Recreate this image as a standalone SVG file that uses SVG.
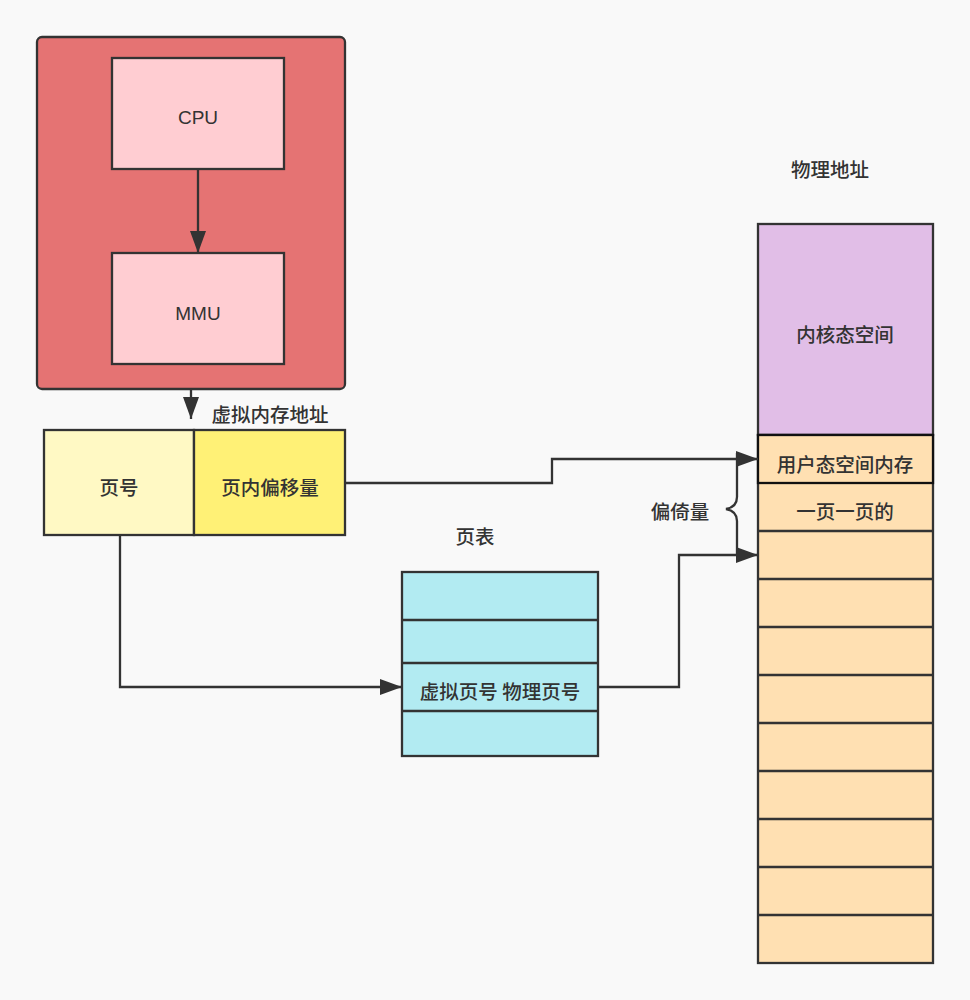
<svg xmlns="http://www.w3.org/2000/svg" width="970" height="1000" viewBox="0 0 970 1000">
<style>
.box{stroke:#333;stroke-width:2.3}
.ln{fill:none;stroke:#333;stroke-width:2.3}
.t{font-family:"Noto Sans CJK SC","Noto Sans",sans-serif;font-size:19.5px;font-weight:500;fill:#333;text-anchor:middle;dominant-baseline:central}
.e{font-family:"Liberation Sans",Arial,sans-serif;font-size:19px;fill:#333;text-anchor:middle;dominant-baseline:central}
</style>
<defs>
<marker id="ah" viewBox="0 0 22 16" refX="22" refY="8" markerWidth="22" markerHeight="16" markerUnits="userSpaceOnUse" orient="auto">
<path d="M0,0 L22,8 L0,16 Z" fill="#333"/>
</marker>
</defs>
<rect width="970" height="1000" fill="#f9f9f9"/>

<g id="cpu-group">
<rect x="37" y="37" width="308" height="352" rx="5" fill="#e57373" class="box"/>
</g>
<g id="cpu">
<rect x="112" y="58" width="172" height="111" fill="#ffcdd2" class="box"/>
<text x="198" y="117" class="e">CPU</text>
</g>
<g id="mmu">
<rect x="112" y="253" width="172" height="111" fill="#ffcdd2" class="box"/>
<text x="198" y="313" class="e">MMU</text>
</g>

<g id="va-label"><text x="270" y="413" class="t">虚拟内存地址</text></g>
<g id="page-no">
<rect x="44" y="430" width="150" height="105" fill="#fff9c4" class="box"/>
<text x="119" y="486" class="t">页号</text>
</g>
<g id="page-offset">
<rect x="194" y="430" width="151" height="105" fill="#fff176" class="box"/>
<text x="270" y="486" class="t">页内偏移量</text>
</g>

<g id="pt-label"><text x="475" y="535" class="t">页表</text></g>
<g id="page-table">
<rect x="402" y="572" width="196" height="184" fill="#b2ebf2" class="box"/>
<line x1="402" y1="620" x2="598" y2="620" class="box"/>
<line x1="402" y1="663" x2="598" y2="663" class="box"/>
<line x1="402" y1="711" x2="598" y2="711" class="box"/>
<text x="500" y="690" class="t">虚拟页号 物理页号</text>
</g>

<g id="pa-label"><text x="830" y="168" class="t">物理地址</text></g>
<g id="kernel">
<rect x="758" y="224" width="175" height="211" fill="#e1bee7" class="box"/>
<text x="845" y="333" class="t">内核态空间</text>
</g>
<g id="memory">
<rect x="758" y="435" width="175" height="528" fill="#ffe0b2" class="box"/>
<line x1="758" y1="531" x2="933" y2="531" class="box"/>
<line x1="758" y1="579" x2="933" y2="579" class="box"/>
<line x1="758" y1="627" x2="933" y2="627" class="box"/>
<line x1="758" y1="675" x2="933" y2="675" class="box"/>
<line x1="758" y1="723" x2="933" y2="723" class="box"/>
<line x1="758" y1="771" x2="933" y2="771" class="box"/>
<line x1="758" y1="819" x2="933" y2="819" class="box"/>
<line x1="758" y1="867" x2="933" y2="867" class="box"/>
<line x1="758" y1="915" x2="933" y2="915" class="box"/>
<text x="845" y="510" class="t">一页一页的</text>
</g>
<g id="user-space">
<rect x="758" y="435" width="175" height="48" fill="#ffe0b2" stroke="#111" stroke-width="2.3"/>
<text x="845" y="463" class="t">用户态空间内存</text>
</g>

<g id="offset-label">
<path d="M737,453 L737,497 Q737,507 726,509 Q737,511 737,521 L737,556" class="ln"/>
<text x="680" y="510" class="t">偏倚量</text>
</g>

<g id="connectors">
<line x1="198" y1="169" x2="198" y2="253" class="ln" marker-end="url(#ah)"/>
<line x1="191" y1="389" x2="191" y2="419" class="ln" marker-end="url(#ah)"/>
<polyline points="345,483 552,483 552,459 758,459" class="ln" marker-end="url(#ah)"/>
<polyline points="120,535 120,687 402,687" class="ln" marker-end="url(#ah)"/>
<polyline points="598,687 679,687 679,555 758,555" class="ln" marker-end="url(#ah)"/>
</g>
</svg>
